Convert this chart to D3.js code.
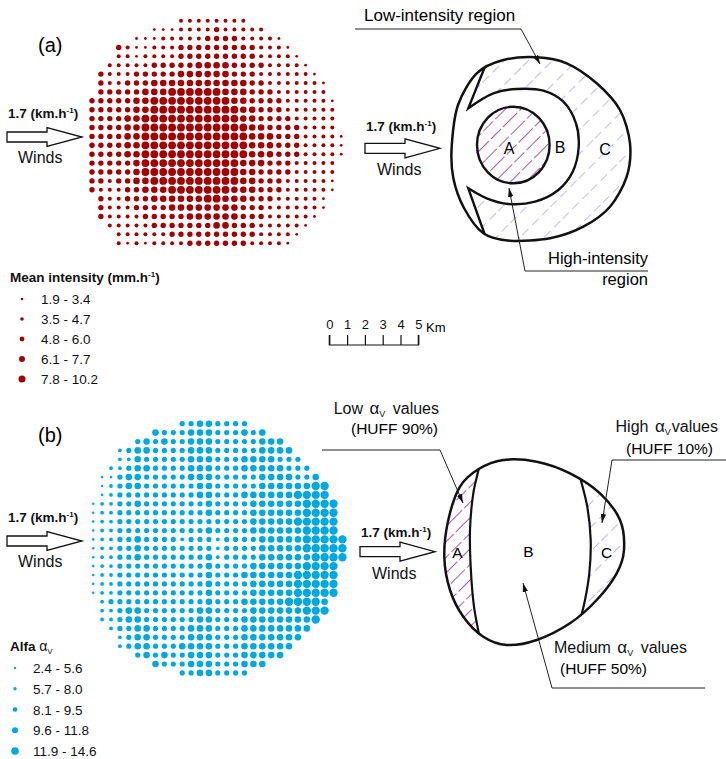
<!DOCTYPE html>
<html>
<head>
<meta charset="utf-8">
<script src="https://cdn.jsdelivr.net/npm/d3@7"></script>
<style>
  body { margin: 0; background: #fff; }
  svg { display: block; font-family: "Liberation Sans", Arial, sans-serif; }
</style>
</head>
<body>
<div id="fig"></div>
<script>
// size class per grid cell (1..5), "." = no cell
const redRows = [
  "..........22222222...........",
  ".......1112222322222.........",
  ".....11122222333322221.......",
  "...32112223333333332221......",
  "...221222233333333322221.....",
  "..22222333334444333322221....",
  ".3222333334444443332222221...",
  ".32233344444444444332222221..",
  ".33333444555555444333222222..",
  "3333344555555555443333222221.",
  "3333344555555555544333222222.",
  "3333445555555555544333322222.",
  "3333445555555555554433332222.",
  "33334455555555555544433322221",
  "33334455555555555544433322221",
  "33334455555555555544433322221",
  "3333345555555555544433322222.",
  "3333345555555555544333322222.",
  "3323344555555555544333222221.",
  "3222334445555555444333222221.",
  ".32233344444455444333222221..",
  ".32223333444444443332222221..",
  ".3222233333444444333222221...",
  "..22222333333344333222221....",
  "...222222333333333322221.....",
  "...21212222333333322221......"
];

const blueRows = [
  "..........33443333...........",
  ".......4333444333434.........",
  ".....34343344433333444.......",
  "...23443333444333334444......",
  "...224333334443334444333.....",
  "..22344333344433344444333....",
  ".1134433333444333334444334...",
  ".12344333333443333344444455..",
  ".12333333333443334444445555..",
  "1223343333333433334444445555.",
  "1223333333333433334444445555.",
  "1223333333333333334444455555.",
  "1223333333333433334444445555.",
  "12233433332333233334444455555",
  "12233433333333233334444455555",
  "12233433333334233334444445555",
  "1223333333333433334444445555.",
  "1223333333333433344444455555.",
  "1223333333333433334444455555.",
  "1223333333333433334444455555.",
  ".23333333333343334444455554..",
  ".22344333333443333444444555..",
  ".2234433333344333444444445...",
  "..23344333344433344444444....",
  "...234433334443334444444.....",
  "...23443334444333444444......",
  ".....34343344433344444.......",
  ".......4333444333444.........",
  "..........33443333..........."
];

const redLegend = ["1.9 - 3.4", "3.5 - 4.7", "4.8 - 6.0", "6.1 - 7.7", "7.8 - 10.2"];
const blueLegend = ["2.4 - 5.6", "5.7 - 8.0", "8.1 - 9.5", "9.6 - 11.8", "11.9 - 14.6"];
const sizeClasses = [1, 2, 3, 4, 5];
const kmTicks = [0, 1, 2, 3, 4, 5];

const RED = "#a50000", BLUE = "#00a8e1";

function cells(rows) {
  const out = [];
  rows.forEach((s, r) => s.split("").forEach((ch, c) => {
    if (ch >= "1" && ch <= "5") out.push({ r: r, c: c, k: +ch });
  }));
  return out;
}

const svg = d3.select("#fig").append("svg")
  .attr("width", 726).attr("height", 759);

const defs = svg.append("defs");
defs.append("marker").attr("id", "ah")
  .attr("viewBox", "0 0 10 6").attr("refX", 10).attr("refY", 3)
  .attr("markerWidth", 9).attr("markerHeight", 5.5)
  .attr("markerUnits", "userSpaceOnUse").attr("orient", "auto")
  .append("path").attr("d", "M0,0 L10,3 L0,6 Z").attr("fill", "#111");

function hatch(id, gap, color, width, dash, op) {
  const p = defs.append("pattern").attr("id", id)
    .attr("patternUnits", "userSpaceOnUse")
    .attr("width", gap).attr("height", 40)
    .attr("patternTransform", "rotate(45)");
  p.append("line").attr("x1", gap / 2).attr("x2", gap / 2)
    .attr("y1", 0).attr("y2", 40)
    .attr("stroke", color).attr("stroke-width", width)
    .attr("stroke-dasharray", dash).attr("opacity", op);
}
hatch("hatchA", 11, "#a8509f", 1.1, "14,3", 0.9);
hatch("hatchC", 17, "#8a8cd8", 0.8, "9,5", 0.7);

// ---------- dot maps ----------
function dotMap(rows, x, y, rScale, color) {
  svg.append("g").selectAll("circle")
    .data(cells(rows)).enter().append("circle")
    .attr("cx", d => x(d.c))
    .attr("cy", d => y(d.r))
    .attr("r", d => rScale(d.k))
    .attr("fill", color);
}
const rRed = d3.scaleOrdinal().domain(sizeClasses).range([1.4, 2.0, 2.7, 3.3, 3.9]);
const rBlue = d3.scaleOrdinal().domain(sizeClasses).range([1.3, 1.9, 2.6, 3.3, 4.2]);

dotMap(redRows,
  d3.scaleLinear().domain([0, 28]).range([92, 341.2]),
  d3.scaleLinear().domain([0, 25]).range([20.7, 243.2]), rRed, RED);
dotMap(blueRows,
  d3.scaleLinear().domain([0, 28]).range([93.2, 342.4]),
  d3.scaleLinear().domain([0, 28]).range([423.7, 672.9]), rBlue, BLUE);

// ---------- legends ----------
function legend(title, labels, rScale, color, x0, dotX, txtX, yTop, yBot) {
  const y = d3.scalePoint().domain(labels).range([yTop, yBot]);
  const t = svg.append("text").attr("x", x0).attr("y", yTop - 17)
    .attr("font-size", 13.5).attr("font-weight", "bold").attr("fill", "#111");
  title(t);
  const g = svg.append("g");
  g.selectAll("circle").data(labels).enter().append("circle")
    .attr("cx", dotX).attr("cy", d => y(d))
    .attr("r", (d, i) => rScale(sizeClasses[i]) * 0.9).attr("fill", color);
  g.selectAll("text").data(labels).enter().append("text")
    .attr("x", txtX).attr("y", d => y(d) + 5)
    .attr("font-size", 13.5).attr("fill", "#111").text(d => d);
}
legend(t => {
  t.append("tspan").text("Mean intensity (mm.h");
  t.append("tspan").attr("font-size", 8).attr("dy", -5).text("-1");
  t.append("tspan").attr("dy", 5).text(")");
}, redLegend, rRed, RED, 10, 22, 41, 299, 379);

legend(t => {
  t.append("tspan").text("Alfa ");
  t.append("tspan").attr("font-weight", "normal").attr("font-size", 14).text("α");
  t.append("tspan").attr("font-weight", "normal").attr("font-size", 8).attr("dy", 3).text("V");
}, blueLegend, rBlue, BLUE, 10, 15, 33, 668, 751);

// ---------- wind arrows ----------
function wind(x0, cy, labelY, windsX, windsY) {
  const xh = x0 + 40, tip = x0 + 75;
  svg.append("path")
    .attr("d", `M${x0},${cy - 5}H${xh}V${cy - 9.5}L${tip},${cy}L${xh},${cy + 9.5}V${cy + 5}H${x0}Z`)
    .attr("fill", "#fff").attr("stroke", "#111").attr("stroke-width", 1.3);
  const t = svg.append("text").attr("x", x0 + 1).attr("y", labelY)
    .attr("font-size", 13.5).attr("font-weight", "bold").attr("fill", "#111");
  t.append("tspan").text("1.7 (km.h");
  t.append("tspan").attr("font-size", 8).attr("dy", -5).text("-1");
  t.append("tspan").attr("dy", 5).text(")");
  svg.append("text").attr("x", windsX).attr("y", windsY)
    .attr("font-size", 16).attr("fill", "#111").text("Winds");
}
wind(7, 137, 118, 18, 163);
wind(365, 148.3, 131, 377, 175);
wind(7, 541, 522, 18, 567);
wind(360, 551.7, 537, 372, 579);

svg.append("text").attr("x", 38).attr("y", 52).attr("font-size", 20).text("(a)");
svg.append("text").attr("x", 38).attr("y", 442).attr("font-size", 20).text("(b)");

// ---------- scale bar ----------
const km = d3.scaleLinear().domain([0, 5]).range([329.3, 418.3]);
const sb = svg.append("g").attr("transform", "translate(0,345)")
  .call(d3.axisTop(km).tickValues(kmTicks).tickSize(10).tickPadding(6).tickFormat(d3.format("d")));
sb.selectAll("path,line").attr("stroke", "#111").attr("stroke-width", 1.2);
sb.select(".domain").attr("d", `M${km(0)},-10V0H${km(5)}V-10`);
sb.selectAll("text").attr("font-size", 13).attr("fill", "#111")
  .attr("font-family", "Liberation Sans, Arial, sans-serif");
svg.append("text").attr("x", 426).attr("y", 332).attr("font-size", 13).text("Km");

// ---------- schematic (a) ----------
const closed = d3.line().curve(d3.curveCardinalClosed.tension(0.1));
const open = d3.line().curve(d3.curveCatmullRom);

const outerA = [[451.7,146.7],[458,105],[476.7,73.3],[503.3,60],[536.7,57.3],[566.7,63.3],[596.7,83.3],
  [620,110],[630,143.3],[626.7,176.7],[610,206.7],[583.3,226.7],[550,238.3],[510,240.7],[483.3,233.3],
  [464,208],[453.3,178]];
const ringA = [[468.3,108.3],[493.3,93.3],[516.7,89],[543.3,90.7],[563.3,101.7],[576,123.3],[578.7,146.7],
  [572.7,171.7],[558.3,190],[535,201.7],[508.3,204],[486.7,198.3],[468.3,188.3]];
const hornTopA = [486, 64], hornBotA = [486, 238];

defs.append("clipPath").attr("id", "clipA").append("path").attr("d", closed(outerA));
const gA = svg.append("g");
gA.append("path").attr("d", closed(outerA)).attr("fill", "url(#hatchC)");
const ringPath = `M${hornTopA}L${open(ringA).slice(1)}L${hornBotA}`;
gA.append("path").attr("clip-path", "url(#clipA)")
  .attr("d", ringPath + `L445,240L445,60Z`).attr("fill", "#fff");
gA.append("ellipse").attr("cx", 513.3).attr("cy", 145).attr("rx", 36.3).attr("ry", 38.3)
  .attr("fill", "url(#hatchA)");
gA.append("path").attr("clip-path", "url(#clipA)").attr("d", ringPath)
  .attr("fill", "none").attr("stroke", "#111").attr("stroke-width", 2.4).attr("stroke-linejoin", "miter");
gA.append("ellipse").attr("cx", 513.3).attr("cy", 145).attr("rx", 36.3).attr("ry", 38.3)
  .attr("fill", "none").attr("stroke", "#111").attr("stroke-width", 2.4);
gA.append("path").attr("d", closed(outerA)).attr("fill", "none")
  .attr("stroke", "#111").attr("stroke-width", 2.5);

[["A", 509, 154], ["B", 560, 153], ["C", 605, 155]].forEach(d =>
  svg.append("text").attr("x", d[1]).attr("y", d[2]).attr("font-size", 16)
    .attr("text-anchor", "middle").text(d[0]));

function leader(pts) {
  svg.append("path").attr("d", d3.line()(pts)).attr("fill", "none")
    .attr("stroke", "#222").attr("stroke-width", 1).attr("marker-end", "url(#ah)");
}
leader([[355, 29], [521, 29], [540, 64]]);
leader([[648, 271], [525, 271], [509, 188]]);
svg.append("text").attr("x", 364).attr("y", 21).attr("font-size", 17).text("Low-intensity region");
svg.append("text").attr("x", 648).attr("y", 264).attr("font-size", 16.5).attr("text-anchor", "end").text("High-intensity");
svg.append("text").attr("x", 648).attr("y", 285).attr("font-size", 16.5).attr("text-anchor", "end").text("region");

// ---------- schematic (b) ----------
const outerB = [[444.3,556.7],[448.3,520],[460,486.7],[478.3,469.3],[503.3,460],[536.7,461.7],[570,473.3],
  [600,493.3],[620,520],[624,550],[616.7,573.3],[596.7,600],[570,623.3],[536.7,640],[506.7,645],
  [483.3,636.7],[463.3,616.7],[450,590]];
const leftDiv = [[480,462],[478.3,470.7],[473.3,493.3],[470,530],[470.7,566.7],[474,606.7],[478.3,630.7],[480,640]];
const rightDiv = [[578,468],[580,476.7],[587.3,506.7],[590.7,540],[589.3,573.3],[585,600],[580,621],[578,630]];

defs.append("clipPath").attr("id", "clipB").append("path").attr("d", closed(outerB));
const gB = svg.append("g");
gB.append("path").attr("d", closed(outerB)).attr("fill", "#fff");
gB.append("path").attr("clip-path", "url(#clipB)")
  .attr("d", `M${open(leftDiv).slice(1)}L430,640L430,462Z`).attr("fill", "url(#hatchA)");
gB.append("path").attr("clip-path", "url(#clipB)")
  .attr("d", `M${open(rightDiv).slice(1)}L640,630L640,468Z`).attr("fill", "url(#hatchC)");
[leftDiv, rightDiv].forEach(p => gB.append("path").attr("clip-path", "url(#clipB)")
  .attr("d", open(p)).attr("fill", "none").attr("stroke", "#111").attr("stroke-width", 2.2));
gB.append("path").attr("d", closed(outerB)).attr("fill", "none")
  .attr("stroke", "#111").attr("stroke-width", 2.5);

[["A", 457.5, 558], ["B", 528.5, 557], ["C", 606.5, 558]].forEach(d =>
  svg.append("text").attr("x", d[1]).attr("y", d[2]).attr("font-size", 15.5)
    .attr("text-anchor", "middle").text(d[0]));

leader([[322, 450], [440, 450], [463, 503]]);
leader([[726, 460], [612, 460], [602, 523]]);
leader([[705, 688], [552, 688], [523, 583]]);

function alphaLabel(x, y, anchor, before, after, gap) {
  const t = svg.append("text").attr("x", x).attr("y", y).attr("font-size", 16)
    .attr("text-anchor", anchor).attr("fill", "#111");
  t.append("tspan").text(before);
  t.append("tspan").attr("dx", 2).attr("font-size", 17).text("α");
  t.append("tspan").attr("font-size", 9).attr("dy", 3).text("V");
  t.append("tspan").attr("dy", -3).attr("dx", gap).text(after);
}
alphaLabel(439, 414, "end", "Low ", " values", 3);
svg.append("text").attr("x", 438).attr("y", 434).attr("font-size", 15.5).attr("text-anchor", "end").text("(HUFF 90%)");
alphaLabel(718, 432, "end", "High ", "values", 1);
svg.append("text").attr("x", 713).attr("y", 454).attr("font-size", 15.5).attr("text-anchor", "end").text("(HUFF 10%)");
alphaLabel(554, 653, "start", "Medium ", " values", 3);
svg.append("text").attr("x", 560).attr("y", 674).attr("font-size", 15.5).text("(HUFF 50%)");
</script>
</body>
</html>
